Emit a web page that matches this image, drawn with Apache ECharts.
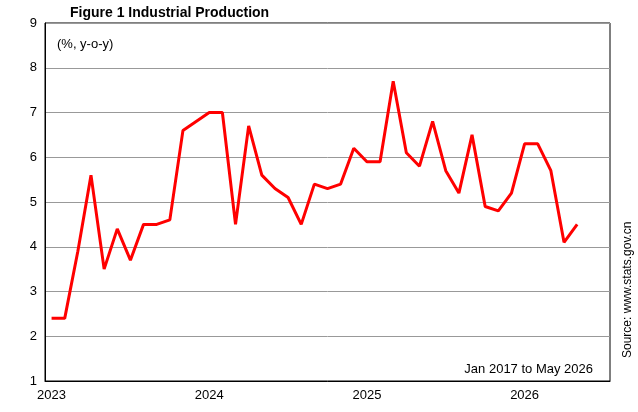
<!DOCTYPE html>
<html><head><meta charset="utf-8">
<script src="https://cdn.jsdelivr.net/npm/echarts@6/dist/echarts.min.js"></script>
<style>html,body{margin:0;padding:0;background:#fff}#c{width:638px;height:412px}</style>
</head><body><div id="c"></div>
<script>
// monthly, Jan 2023 .. May 2026 (Jan/Feb share the combined figure)
let values = [2.4, 2.4, 3.9, 5.6, 3.5, 4.4, 3.7, 4.5, 4.5, 4.6, 6.6, 6.8,
    7.0, 7.0, 4.5, 6.7, 5.6, 5.3, 5.1, 4.5, 5.4, 5.3, 5.4, 6.2,
    5.9, 5.9, 7.7, 6.1, 5.8, 6.8, 5.7, 5.2, 6.5, 4.9, 4.8, 5.2,
    6.3, 6.3, 5.7, 4.1, 4.5];
let years = ['2023', '2024', '2025', '2026'];
let months = [];
years.forEach(y => { for (let m = 1; m <= 12; m++) months.push(y + '-' + m); });
months = months.slice(0, 43);

let myChart = echarts.init(document.getElementById('c'));
let isJan = (i, v) => v.endsWith('-1');
myChart.setOption({
    animation: false,
    textStyle: {fontFamily: 'Liberation Sans, Arial'},
    title: [
        {text: 'Figure 1 Industrial Production', left: 65, top: 1,
            textStyle: {fontSize: 14, fontWeight: 'bold', color: '#000'}},
        {text: '(%, y-o-y)', left: 52, top: 33,
            textStyle: {fontSize: 13, fontWeight: 'normal', color: '#000'}},
        {text: 'Jan 2017 to May 2026', right: 40, top: 358,
            textStyle: {fontSize: 13, fontWeight: 'normal', color: '#000'}}
    ],
    graphic: [{
        type: 'text', x: 622, y: 358, rotation: Math.PI / 2,
        style: {text: 'Source: www.stats.gov.cn', fontSize: 12, fill: '#000',
            fontFamily: 'Liberation Sans, Arial'}
    }],
    grid: {left: 45, right: 28, top: 23, bottom: 31, show: true,
        borderColor: '#000', borderWidth: 1},
    xAxis: {
        type: 'category', data: months, boundaryGap: true,
        axisLine: {lineStyle: {color: '#000'}},
        axisTick: {interval: isJan, alignWithLabel: true, inside: true, lineStyle: {color: '#000'}},
        axisLabel: {interval: isJan, color: '#000', fontSize: 13,
            formatter: v => v.split('-')[0]}
    },
    yAxis: {
        type: 'value', min: 1, max: 9, interval: 1,
        axisLine: {show: true, lineStyle: {color: '#000'}},
        axisTick: {show: false},
        axisLabel: {color: '#000', fontSize: 13},
        splitLine: {lineStyle: {color: '#999'}}
    },
    series: [{
        type: 'line', data: values, showSymbol: false,
        lineStyle: {color: '#ff0000', width: 3}
    }]
});
</script></body></html>
